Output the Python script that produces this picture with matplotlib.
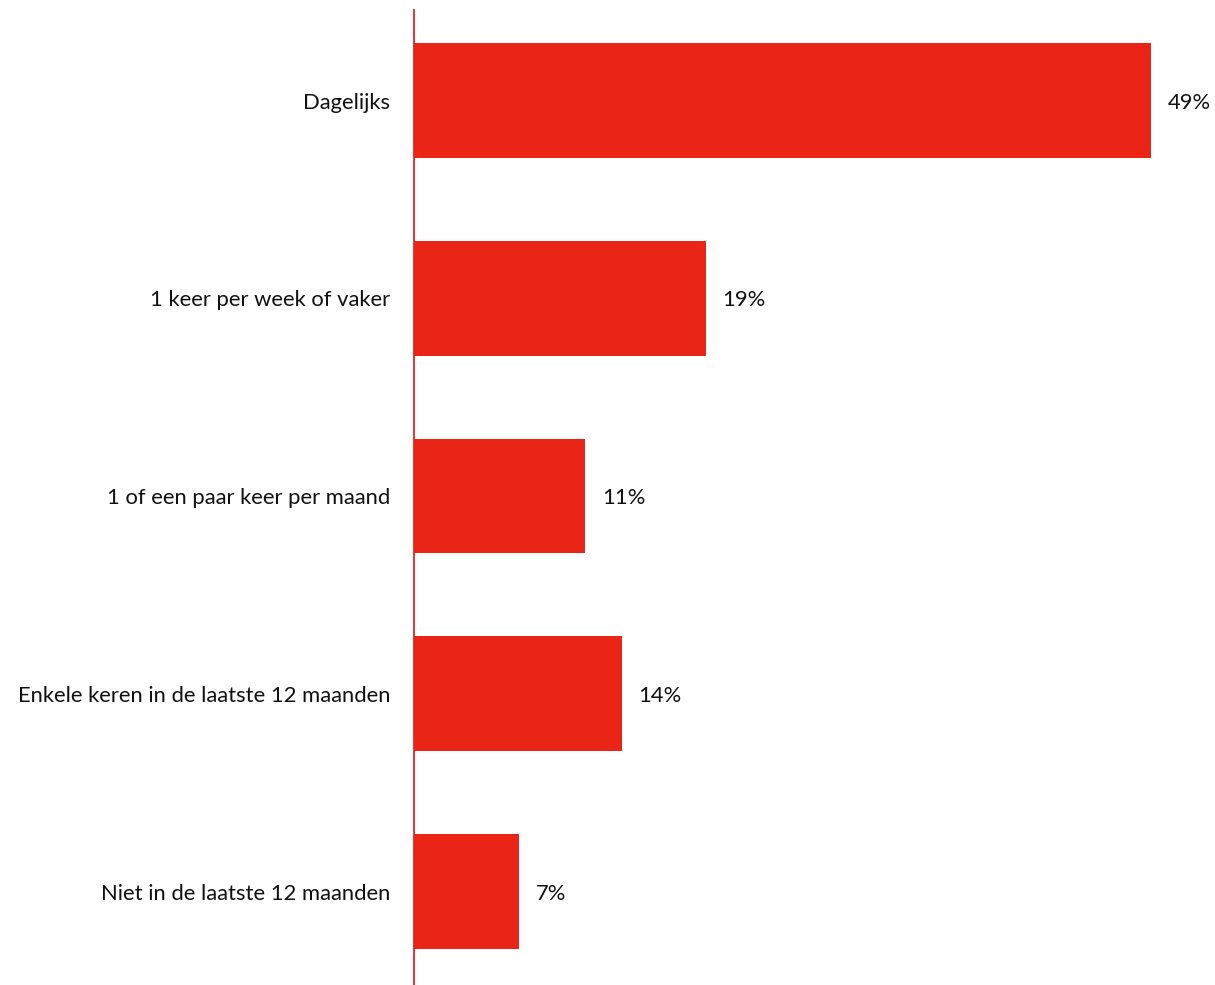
import matplotlib
matplotlib.use("Agg")
import matplotlib.pyplot as plt

categories = [
    "Dagelijks",
    "1 keer per week of vaker",
    "1 of een paar keer per maand",
    "Enkele keren in de laatste 12 maanden",
    "Niet in de laatste 12 maanden",
]
values = [49.0, 19.4, 11.4, 13.8, 7.0]
labels = ["49%", "19%", "11%", "14%", "7%"]

red = "#EB2418"
plt.rcParams["font.family"] = ["Lato", "DejaVu Sans"]

fig = plt.figure(figsize=(12.15, 9.85), dpi=100)
ax = fig.add_axes([414 / 1215, 0.0, 1 - 414 / 1215, 1 - 10 / 985])

y = list(range(len(categories)))
ax.barh(y, values, height=0.58, color=red, zorder=2)
ax.set_xlim(0, 53.26)
ax.set_ylim(4.473, -0.458)

for yi, v, lab in zip(y, values, labels):
    ax.annotate(lab, (v, yi), xytext=(12, -1.5), textcoords="offset points",
                ha="left", va="center", fontsize=15.8, color="#111111")

ax.set_yticks(y)
ax.set_yticklabels([])
for yi, cat in zip(y, categories):
    ax.annotate(cat, (0, yi), xycoords=("axes fraction", "data"),
                xytext=(-17, -1.5), textcoords="offset points",
                ha="right", va="center", fontsize=15.8, color="#111111")
ax.tick_params(axis="y", length=0)
ax.set_xticks([])
for s in ["top", "right", "bottom"]:
    ax.spines[s].set_visible(False)
ax.spines["left"].set_color(red)
ax.spines["left"].set_linewidth(1.3)

fig.savefig("out.png", dpi=100)
